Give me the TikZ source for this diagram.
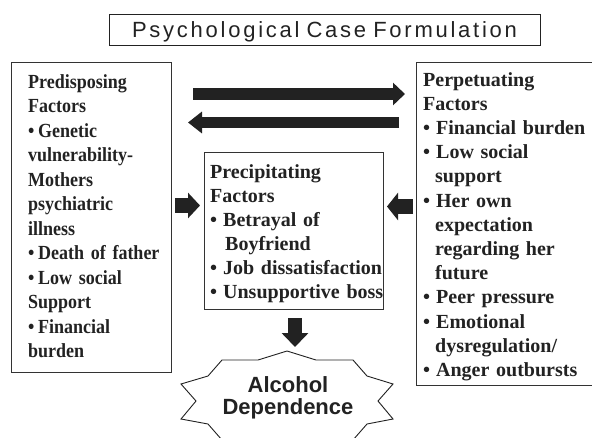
\documentclass[tikz,border=0pt]{standalone}
\usepackage{fontspec}
\setmainfont{Liberation Serif}
\newfontfamily\titlefont[LetterSpace=12.5,WordSpace=0.8]{Liberation Sans}
\newfontfamily\burstfont{Liberation Sans}
\newfontfamily\narrowserif[FakeStretch=0.9]{Liberation Serif}
\usetikzlibrary{arrows.meta}
\newcommand{\mybul}[1][9pt]{\makebox[#1][l]{\textbullet}}
\definecolor{ink}{HTML}{222222}
\definecolor{edge}{HTML}{333333}
\begin{document}
\begin{tikzpicture}[x=1pt,y=-1pt,
  box/.style={draw=edge, line width=0.9pt, inner sep=0pt, anchor=north west},
  boxtext/.style={anchor=base west, inner sep=0pt, align=left, text=ink, text width=200pt},
  blk/.style={draw=ink, line cap=butt},
  burst/.style={draw=ink, line width=0.9pt, fill=white, line join=miter}
]
\clip (0,0) rectangle (592,437);
\fill[white] (0,0) rectangle (592,437);

% title
\node[draw=ink, line width=1.3pt, minimum width=431pt, minimum height=31pt, inner sep=0pt, anchor=north west] (title) at (109,14) {};
\node[anchor=base, inner sep=0pt, text=ink, font=\titlefont\fontsize{22pt}{22pt}\selectfont] (titletext) at (324.5,37.7) {Psychological Case Formulation};

% boxes
\node[box, minimum width=160pt, minimum height=310pt] (pre) at (11,62) {};
\node[box, minimum width=179pt, minimum height=157pt] (prec) at (204,152) {};
\node[box, minimum width=180pt, minimum height=323pt] (per) at (416,62) {};

% texts
\node[boxtext, font=\narrowserif\fontsize{20pt}{24.5pt}\selectfont\bfseries] (pretext) at (28,88.3) {Predisposing\\
Factors\\
\mybul[10pt]Genetic\\
vulnerability-\\
Mothers\\
psychiatric\\
illness\\
\mybul[10pt]Death of father\\
\mybul[10pt]Low social\\
Support\\
\mybul[10pt]Financial\\
burden};

\node[boxtext, font=\fontsize{20pt}{24pt}\selectfont\bfseries] (prectext) at (210,178) {Precipitating\\
Factors\\
\mybul[13pt]Betrayal of\\
\hspace*{15pt}Boyfriend\\
\mybul[13pt]Job dissatisfaction\\
\mybul[13pt]Unsupportive boss};

\node[boxtext, font=\fontsize{20pt}{24.2pt}\selectfont\bfseries] (pertext) at (423,86) {Perpetuating\\
Factors\\
\mybul[13pt]Financial burden\\
\mybul[13pt]Low social\\
\hspace*{12pt}support\\
\mybul[13pt]Her own\\
\hspace*{12pt}expectation\\
\hspace*{12pt}regarding her\\
\hspace*{12pt}future\\
\mybul[13pt]Peer pressure\\
\mybul[13pt]Emotional\\
\hspace*{12pt}dysregulation/\\
\mybul[13pt]Anger outbursts};

% block arrows
\coordinate (t1s) at (193,94);
\coordinate (t1e) at (405,94);
\coordinate (t2s) at (399,122.5);
\coordinate (t2e) at (188,122.5);
\coordinate (l1s) at (175,205.5);
\coordinate (l1e) at (200,205.5);
\coordinate (r1s) at (413,206.5);
\coordinate (r1e) at (387,206.5);
\coordinate (d1s) at (295,318);
\coordinate (d1e) at (295,347);
\draw[blk, line width=12pt, -{Triangle[length=12pt,width=22pt]}] (t1s) -- (t1e);
\draw[blk, line width=11pt, -{Triangle[length=14pt,width=21pt]}] (t2s) -- (t2e);
\draw[blk, line width=15pt, -{Triangle[length=12pt,width=25pt]}] (l1s) -- (l1e);
\draw[blk, line width=15pt, -{Triangle[length=11pt,width=27pt]}] (r1s) -- (r1e);
\draw[blk, line width=14pt, -{Triangle[length=14pt,width=26pt]}] (d1s) -- (d1e);

% starburst
\draw[burst] (222,360) -- (258,360) -- (287,351) -- (316,360) -- (353,360)
  -- (367,376) -- (393,384) -- (378,401) -- (393,419) -- (367,424) -- (353,440)
  -- (316,440) -- (287,448) -- (258,440) -- (222,440)
  -- (208,424) -- (181,419) -- (196,401) -- (181,384) -- (208,376) -- cycle;
\node[anchor=base, inner sep=0pt, text width=150pt, align=center, text=ink,
  font=\burstfont\bfseries\fontsize{22pt}{22pt}\selectfont] (alc) at (288,392) {Alcohol\\Dependence};
\end{tikzpicture}
\end{document}
